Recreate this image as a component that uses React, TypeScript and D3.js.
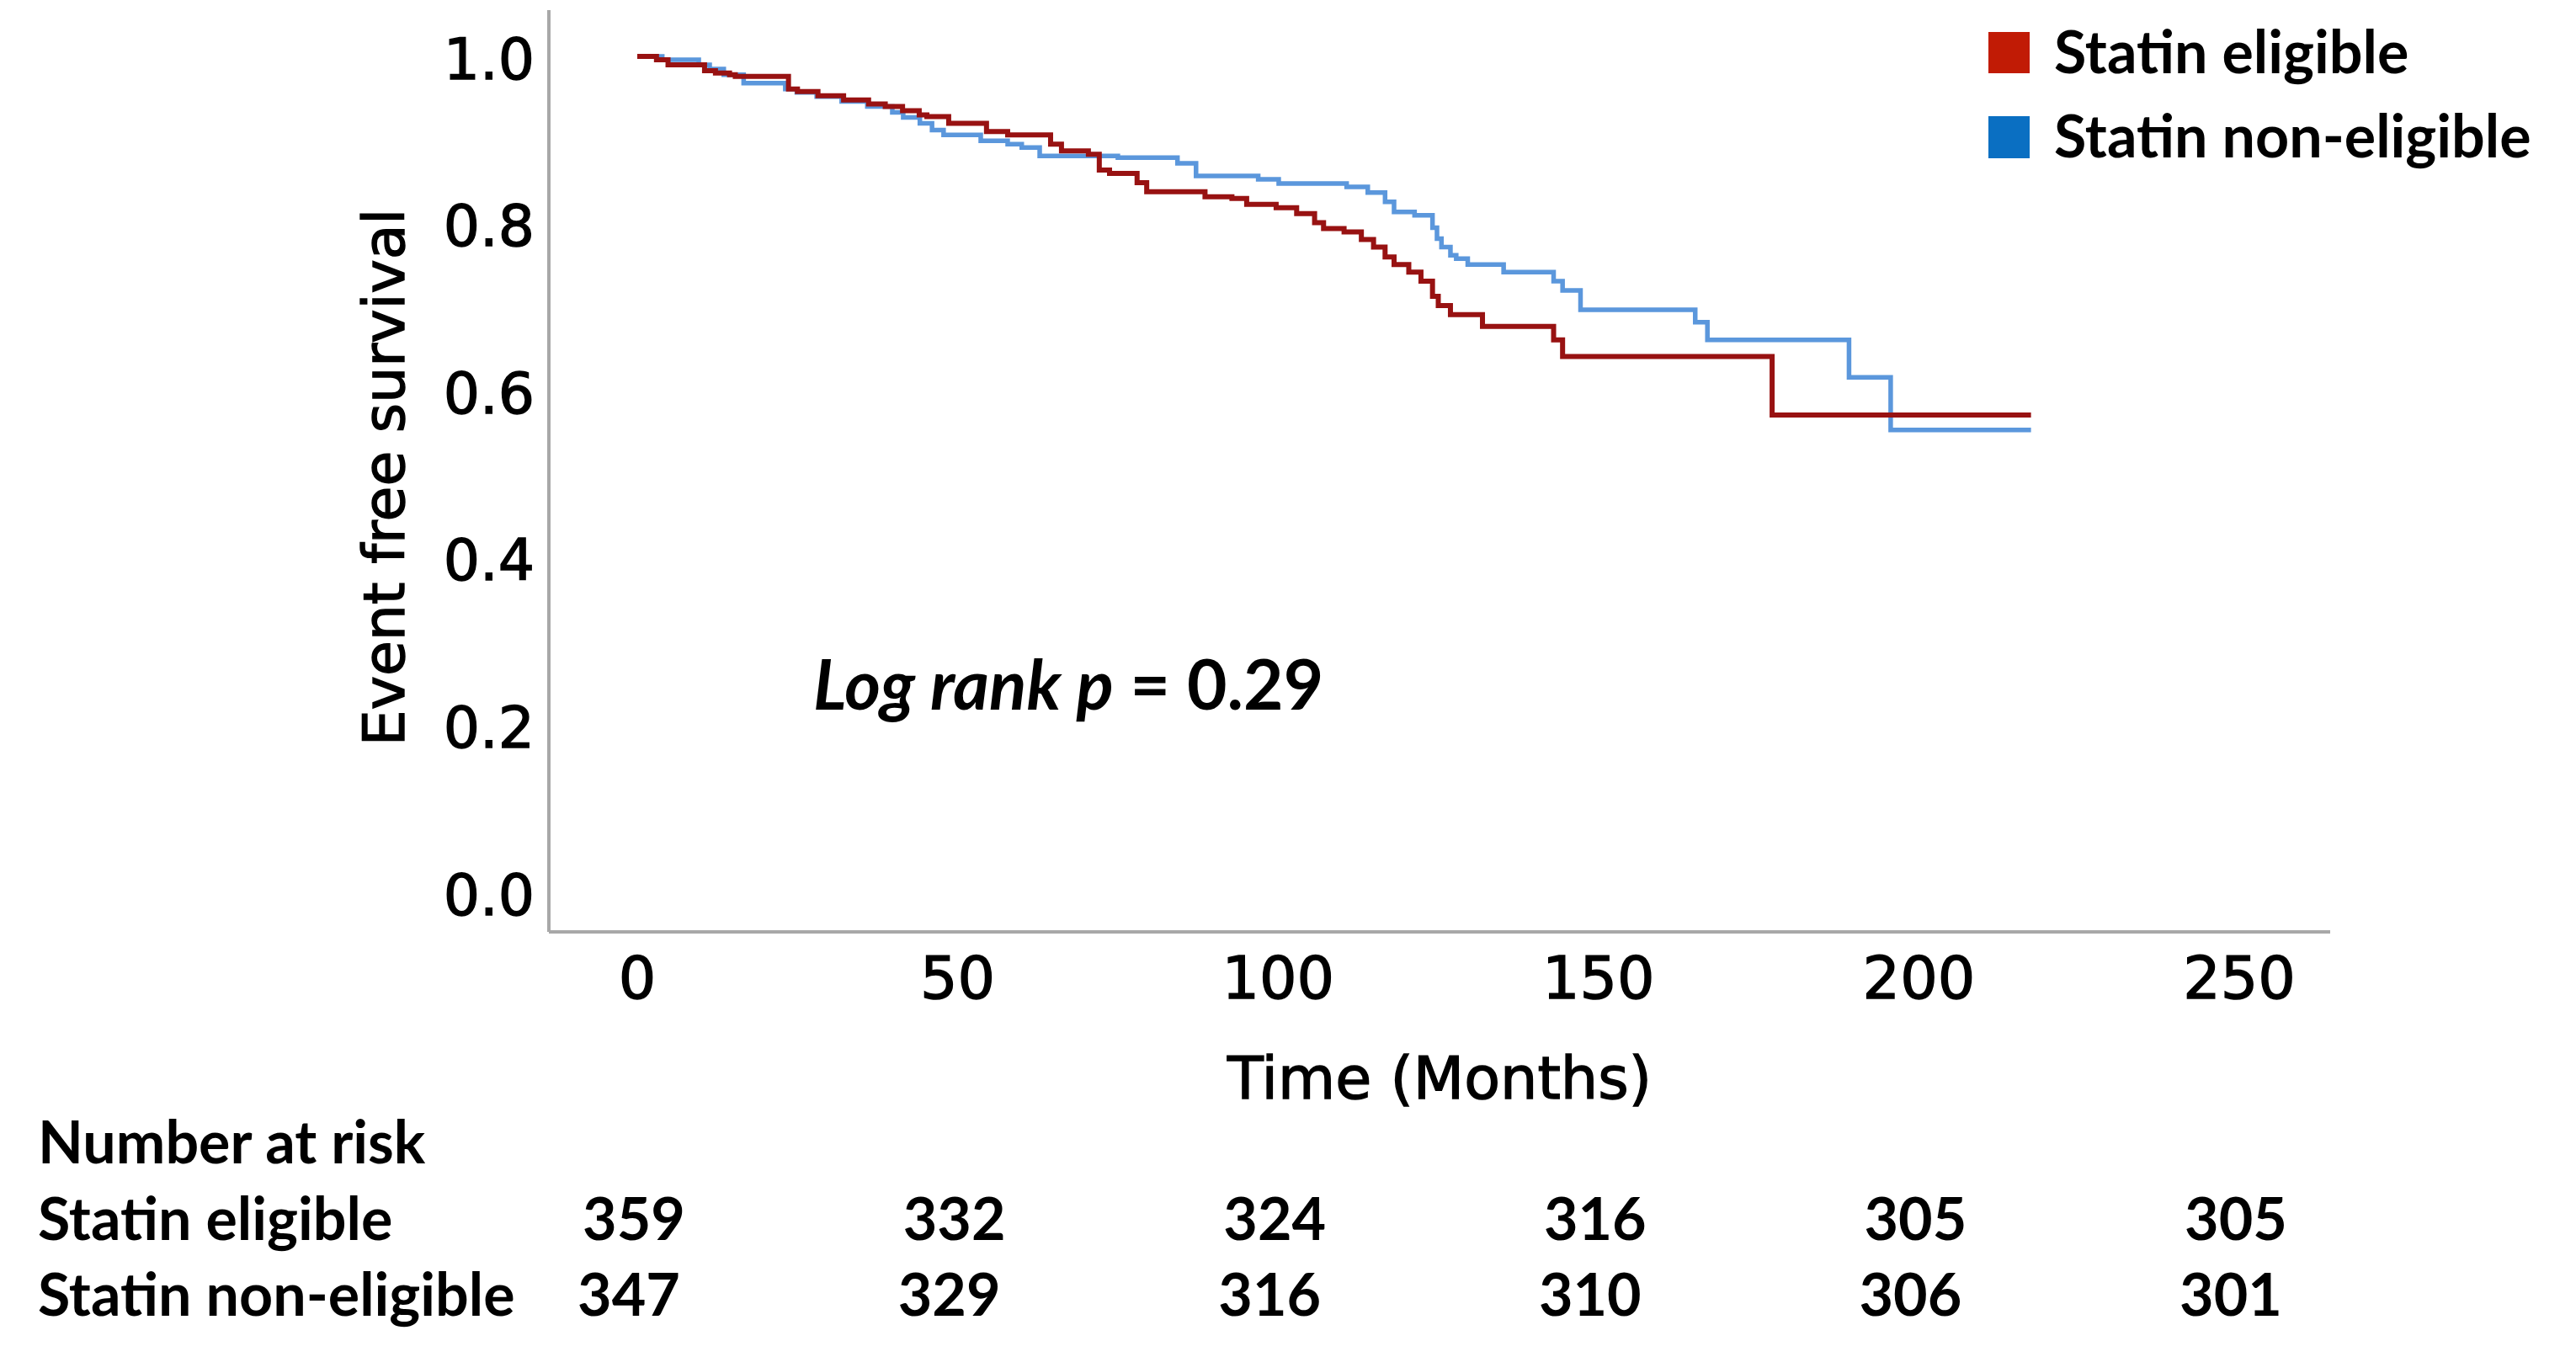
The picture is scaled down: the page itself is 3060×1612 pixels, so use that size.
import React from "react";
import * as d3 from "d3";

// ---- Data ----
const eligibleTimes = [0, 3.0, 4.8, 10.5, 12.2, 14.4, 15.3, 23.6, 25.0, 28.2, 32.2, 36.1, 38.7, 41.4, 44.0, 45.2, 48.6, 54.5, 57.8, 64.5, 66.2, 70.4, 72.1, 73.7, 78.0, 79.5, 88.6, 92.8, 95.1, 99.7, 102.9, 105.7, 107.1, 110.3, 113.0, 114.9, 116.7, 118.1, 120.4, 122.3, 124.1, 125.0, 126.9, 131.9, 143.0, 144.4, 177.1, 217.5];
const eligibleSurv = [1.0, 0.996, 0.99, 0.983, 0.98, 0.978, 0.976, 0.961, 0.958, 0.953, 0.948, 0.943, 0.94, 0.935, 0.93, 0.928, 0.92, 0.91, 0.906, 0.895, 0.887, 0.883, 0.864, 0.86, 0.849, 0.838, 0.832, 0.83, 0.823, 0.819, 0.812, 0.801, 0.794, 0.79, 0.781, 0.772, 0.76, 0.751, 0.742, 0.731, 0.713, 0.702, 0.691, 0.677, 0.661, 0.641, 0.571, 0.571];

const nonEligibleTimes = [0, 3.9, 9.6, 11.3, 13.5, 16.6, 23.1, 24.9, 28.0, 31.9, 35.9, 39.8, 41.5, 44.1, 46.0, 47.8, 53.6, 57.8, 60.0, 62.8, 75.0, 84.3, 87.2, 96.9, 100.1, 110.7, 114.0, 116.7, 118.1, 121.3, 124.1, 124.8, 125.5, 126.9, 127.8, 129.6, 135.2, 143.0, 144.4, 147.2, 165.1, 167.0, 189.1, 195.6, 217.5];
const nonEligibleSurv = [1.0, 0.996, 0.99, 0.985, 0.978, 0.968, 0.961, 0.957, 0.952, 0.946, 0.94, 0.933, 0.927, 0.92, 0.912, 0.906, 0.899, 0.895, 0.891, 0.881, 0.879, 0.872, 0.857, 0.853, 0.848, 0.844, 0.837, 0.826, 0.814, 0.81, 0.795, 0.782, 0.772, 0.762, 0.758, 0.751, 0.742, 0.731, 0.72, 0.697, 0.682, 0.661, 0.616, 0.553, 0.553];

const xTicks = [0, 50, 100, 150, 200, 250];
const yTicks = [0, 0.2, 0.4, 0.6, 0.8, 1.0];
const seriesNames = ["Statin eligible", "Statin non-eligible"];
const riskEligible = [359, 332, 324, 316, 305, 305];
const riskNonEligible = [347, 329, 316, 310, 306, 301];
const pText = "Log rank p";
const pValue = " = 0.29";

// ---- Styles ----
const W = 3060;
const H = 1612;
const axisFont = "'DejaVu Sans', Verdana, sans-serif";
const boldFont = "Lato, 'Open Sans', sans-serif";
const lineRed = "#981212";
const lineBlue = "#5b97dc";
const legendRed = "#c11b05";
const legendBlue = "#0a6fc2";
const axisColor = "#a8a8a8";

export default function App() {
  const x = d3.scaleLinear().domain([0, 250]).range([757, 2660]);
  const y = d3.scaleLinear().domain([0, 1]).range([1060, 67]);

  const line = d3
    .line<[number, number]>()
    .x((d) => x(d[0]))
    .y((d) => y(d[1]))
    .curve(d3.curveStepAfter);

  const red = eligibleTimes.map((t, i) => [t, eligibleSurv[i]] as [number, number]);
  const blue = nonEligibleTimes.map((t, i) => [t, nonEligibleSurv[i]] as [number, number]);

  const axisLeft = 652;
  const axisBottom = 1107;
  const axisRight = 2768;
  const axisTop = 12;

  const axisText = { fontFamily: axisFont, fill: "#000", stroke: "#000", strokeWidth: 1.4 } as const;

  return (
    <div style={{ position: "absolute", left: 0, top: 0, width: W, height: H, background: "#fff" }}>
      <svg width={W} height={H} viewBox={`0 0 ${W} ${H}`}>
        <rect x={0} y={0} width={W} height={H} fill="#fff" />
        {/* axes */}
        <line x1={axisLeft} x2={axisLeft} y1={axisTop} y2={axisBottom} stroke={axisColor} strokeWidth={4} />
        <line x1={axisLeft} x2={axisRight} y1={axisBottom} y2={axisBottom} stroke={axisColor} strokeWidth={4} />

        {/* y tick labels */}
        {yTicks.map((t) => (
          <text
            key={"y" + t}
            x={635}
            y={y(t) + 3}
            textAnchor="end"
            dominantBaseline="central"
            fontSize={68}
            {...axisText}
          >
            {t.toFixed(1)}
          </text>
        ))}
        {/* x tick labels */}
        {xTicks.map((t) => (
          <text
            key={"x" + t}
            x={x(t)}
            y={1162}
            textAnchor="middle"
            dominantBaseline="central"
            fontSize={70}
            {...axisText}
          >
            {t}
          </text>
        ))}

        {/* axis titles */}
        <text x={1710} y={1305} textAnchor="middle" fontSize={70} {...axisText}>
          Time (Months)
        </text>
        <text transform={`translate(480, 567) rotate(-90)`} textAnchor="middle" fontSize={68} {...axisText}>
          Event free survival
        </text>

        {/* curves */}
        <path d={line(blue) || ""} fill="none" stroke={lineBlue} strokeWidth={5.5} />
        <path d={line(red) || ""} fill="none" stroke={lineRed} strokeWidth={6} />

        {/* log rank */}
        <text x={966} y={843} fontFamily={boldFont} fontWeight={700} fontSize={82} fill="#000">
          <tspan fontStyle="italic">{pText}</tspan>
          <tspan>{pValue}</tspan>
        </text>

        {/* legend */}
        <rect x={2362} y={38} width={49} height={49} fill={legendRed} />
        <rect x={2362} y={138} width={49} height={50} fill={legendBlue} />
        <text x={2440} y={87} fontFamily={boldFont} fontWeight={700} fontSize={70} fill="#000">
          {seriesNames[0]}
        </text>
        <text x={2440} y={187} fontFamily={boldFont} fontWeight={700} fontSize={70} fill="#000">
          {seriesNames[1]}
        </text>

        {/* number at risk table */}
        <text x={45} y={1382} fontFamily={boldFont} fontWeight={700} fontSize={70} fill="#000">
          Number at risk
        </text>
        <text x={45} y={1473} fontFamily={boldFont} fontWeight={700} fontSize={70} fill="#000">
          {seriesNames[0]}
        </text>
        <text x={45} y={1563} fontFamily={boldFont} fontWeight={700} fontSize={70} fill="#000">
          {seriesNames[1]}
        </text>
        {riskEligible.map((v, i) => (
          <text
            key={"re" + i}
            x={x(xTicks[i]) - 4}
            y={1473}
            textAnchor="middle"
            fontFamily={boldFont}
            fontWeight={700}
            fontSize={70}
            fill="#000"
          >
            {v}
          </text>
        ))}
        {riskNonEligible.map((v, i) => (
          <text
            key={"rn" + i}
            x={x(xTicks[i]) - 10}
            y={1563}
            textAnchor="middle"
            fontFamily={boldFont}
            fontWeight={700}
            fontSize={70}
            fill="#000"
          >
            {v}
          </text>
        ))}
      </svg>
    </div>
  );
}
